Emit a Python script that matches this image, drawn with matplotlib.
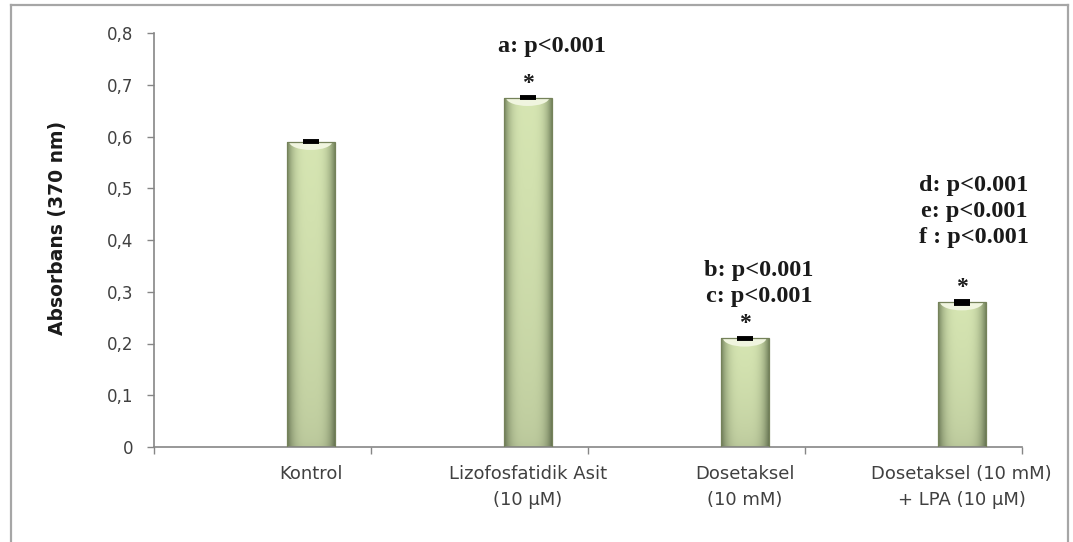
import numpy as np
import matplotlib
matplotlib.use("Agg")
import matplotlib.pyplot as plt
from matplotlib.patches import Rectangle, Ellipse
from matplotlib.lines import Line2D

# Absorbance readings per treatment group
groups = ["Kontrol", "Lizofosfatidik Asit\n(10 µM)", "Dosetaksel\n(10 mM)",
          "Dosetaksel (10 mM)\n+ LPA (10 µM)"]
absorbance = [0.59, 0.675, 0.21, 0.28]
errors = [0.001, 0.001, 0.001, 0.003]
significant = [False, True, True, True]
p_notes = [[], ["a: p<0.001"], ["b: p<0.001", "c: p<0.001"],
           ["d: p<0.001", "e: p<0.001", "f : p<0.001"]]
note_top = [None, 0.773, 0.342, 0.506]   # centre of first note line
note_x = [None, 1.334, 2.288, 3.279]
yticks = [0, 0.1, 0.2, 0.3, 0.4, 0.5, 0.6, 0.7, 0.8]

fig = plt.figure(figsize=(10.73, 5.42), dpi=100)
ax = fig.add_axes([154 / 1073, 1 - 447 / 542, 868 / 1073, 414 / 542])

offset = 0.222
width = 0.221
xpos = [i + offset for i in range(len(groups))]

# cylinder-like shading across each bar
t = np.linspace(0, 1, 60)
s = np.abs(2 * t - 1) ** 3.5
edge = np.array([0.47, 0.53, 0.38])
mid = np.array([0.84, 0.90, 0.70])
row = mid[None, :] * (1 - s[:, None]) + edge[None, :] * s[:, None]
v = np.linspace(0, 1, 80)[:, None, None]
shade = row[None, :, :] * (0.86 + 0.14 * v ** 0.5)
shade = np.clip(shade, 0, 1)

for x, h in zip(xpos, absorbance):
    x0, x1 = x - width / 2, x + width / 2
    im = ax.imshow(shade, extent=(x0, x1, 0, h), origin="lower",
                   aspect="auto", zorder=2, interpolation="bilinear")
    im.set_clip_path(Rectangle((x0, 0), width, h, transform=ax.transData))
    cap = ax.add_patch(Ellipse((x, h), width * 0.9, 0.032,
                               facecolor="#f0f5df", edgecolor="none",
                               zorder=3))
    cap.set_clip_path(Rectangle((x0, 0), width, h, transform=ax.transData))
    ax.add_patch(Rectangle((x0, 0), width, h, facecolor="none",
                           edgecolor="#75825a", linewidth=0.9, zorder=3))

ax.errorbar(xpos, absorbance, yerr=errors, fmt="none", ecolor="black",
            elinewidth=1.5, capsize=5.5, capthick=2.8, zorder=4)

serif = dict(family="Liberation Serif", weight="bold", color="#1a1a1a")
for i, (x, h) in enumerate(zip(xpos, absorbance)):
    if significant[i]:
        ax.text(x, h + 0.028, "*", ha="center", va="center", fontsize=17,
                **serif)
    for k, line in enumerate(p_notes[i]):
        ax.text(note_x[i], note_top[i] - k * 0.051, line, ha="center",
                va="center", fontsize=17.5, **serif)

ax.set_xlim(-0.5, len(groups) - 0.5)
ax.set_ylim(0, 0.8)

ax.set_yticks(yticks)
ax.set_yticklabels(["0" if y == 0 else f"{y:.1f}".replace(".", ",")
                    for y in yticks])
ax.set_xticks(np.arange(-0.5, len(groups)))
ax.set_xticklabels([])
ax.set_xticks(xpos, minor=True)
ax.set_xticklabels(groups, minor=True, fontsize=13, family="DejaVu Sans",
                   color="#404040", linespacing=1.6)

ax.tick_params(axis="y", length=5, width=1, color="#868686", pad=10,
               labelsize=12, labelcolor="#404040")
ax.tick_params(axis="x", which="major", length=5, width=1, color="#868686")
ax.tick_params(axis="x", which="minor", length=0, pad=13)

for side in ("top", "right"):
    ax.spines[side].set_visible(False)
for side in ("left", "bottom"):
    ax.spines[side].set_color("#868686")
    ax.spines[side].set_linewidth(1.2)

ax.set_ylabel("Absorbans (370 nm)", fontsize=13.5, family="DejaVu Sans",
              weight="bold", color="#1a1a1a")
ax.yaxis.set_label_coords(-0.1, 0.53)

# outer chart frame
bx0, bx1, by = 11 / 1073, 1068 / 1073, 1 - 5 / 542
for xs, ys in [([bx0, bx1], [by, by]), ([bx0, bx0], [by, -0.01]),
               ([bx1, bx1], [by, -0.01])]:
    fig.add_artist(Line2D(xs, ys, color="#a6a6a6", linewidth=1.6))

fig.savefig("out.png", dpi=100)
